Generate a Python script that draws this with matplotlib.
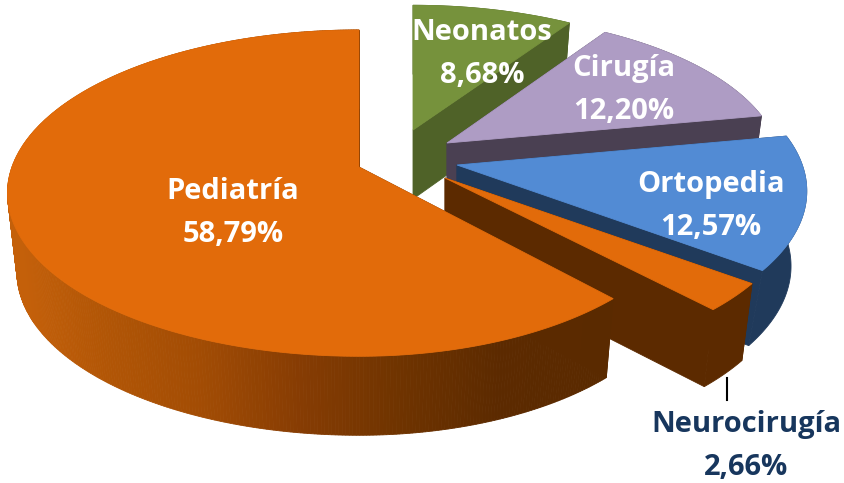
import matplotlib
matplotlib.use("Agg")
import matplotlib.pyplot as plt
from matplotlib.colors import to_rgb
from matplotlib.patches import Polygon
import numpy as np

categorias = ["Neonatos", "Cirugía", "Ortopedia", "Neurocirugía", "Pediatría"]
valores = [8.68, 12.20, 12.57, 2.66, 58.79]

color_top = ["#76923c", "#ae9cc4", "#528bd4", "#e26b0a", "#e26b0a"]
color_side = ["#4f6228", "#4a4052", "#203a5b", "#5c2a00", "#5c2a00"]

# vertice de cada porcion en pixeles, escala y profundidad (explosion 3D)
vertice = [(413, 130), (447, 143), (457, 165), (445, 178), (359, 167)]
escala = [(0.94, 0.91), (0.95, 0.94), (0.995, 1), (1, 1), (1, 1)]
# la mitad derecha de Pediatria queda algo mas estrecha en el original
escala_der = [1, 1, 1, 1, 0.948]
profundidad = [69, 77, 75, 77, 79]
encoge = [0.967, 0.967, 0.955, 0.967, 0.973]
pos_label = [(482, 54), (624, 90), (711, 206), (746, 446), (233, 213)]
color_label = ["white", "white", "white", "#17365d", "white"]

A = 347
B = 159
K = 0.16

# degradado del lateral de Pediatria segun x
grad_x = [20, 100, 200, 300, 395, 500, 610]
grad_c = ["#c4600a", "#b25606", "#a24c04", "#863c03", "#703400", "#5c2a00", "#5a2a00"]


def Arco(t1, t2, vert, esc, der):
    t = np.radians(np.linspace(t1, t2, int(abs(t2 - t1) * 2) + 2))
    w = 1 + K * np.cos(t)
    u = np.sin(t)
    u = np.where(u > 0, u * der, u)
    x = vert[0] + A * esc[0] * u / w
    y = vert[1] - B * esc[1] * np.cos(t) / w
    return x, y


def Abajo(x, y, vert, prof, enc):
    return vert[0] + (x - vert[0]) * enc, y + prof


def Poly(ax, xs, ys, color, z):
    ax.add_patch(Polygon(np.column_stack([xs, ys]), closed=True, facecolor=color,
                         edgecolor=color, lw=0.6, zorder=z))


fig = plt.figure(figsize=(8.45, 4.83), dpi=100)
ax = fig.add_axes([0, 0, 1, 1])
ax.set_xlim(0, 845)
ax.set_ylim(483, 0)
ax.axis("off")

angulos = np.concatenate([[0], np.cumsum(valores)]) / np.sum(valores) * 360

for i in range(len(valores)):
    t1, t2 = angulos[i], angulos[i + 1]
    vx, vy = vertice[i]
    x, y = Arco(t1, t2, vertice[i], escala[i], escala_der[i])
    xb, yb = Abajo(x, y, vertice[i], profundidad[i], encoge[i])
    z = 2 * i + 1
    # caras de corte
    for j in (0, -1):
        Poly(ax, [vx, x[j], xb[j], vx], [vy, y[j], yb[j], vy + profundidad[i]], color_side[i], z)
    # lateral exterior
    if categorias[i] == "Pediatría":
        rgb = np.array([to_rgb(c) for c in grad_c])
        for j in range(len(x) - 1):
            xm = (x[j] + x[j + 1]) / 2
            c = [np.interp(xm, grad_x, rgb[:, n]) for n in range(3)]
            Poly(ax, [x[j], x[j + 1], xb[j + 1], xb[j]], [y[j], y[j + 1], yb[j + 1], yb[j]], c, z)
    else:
        Poly(ax, np.r_[x, xb[::-1]], np.r_[y, yb[::-1]], color_side[i], z)
    # cara superior
    Poly(ax, np.r_[vx, x], np.r_[vy, y], color_top[i], z + 1)

ax.plot([727, 727], [378, 400], color="black", lw=1.5, zorder=20)

for i in range(len(valores)):
    texto = categorias[i] + "\n" + f"{valores[i]:.2f}%".replace(".", ",")
    ax.text(pos_label[i][0], pos_label[i][1], texto, color=color_label[i], fontsize=21,
            family="Open Sans", fontweight="bold", ha="center", va="center",
            linespacing=1.6, zorder=30)

fig.savefig("out.png", dpi=100, facecolor="white")
